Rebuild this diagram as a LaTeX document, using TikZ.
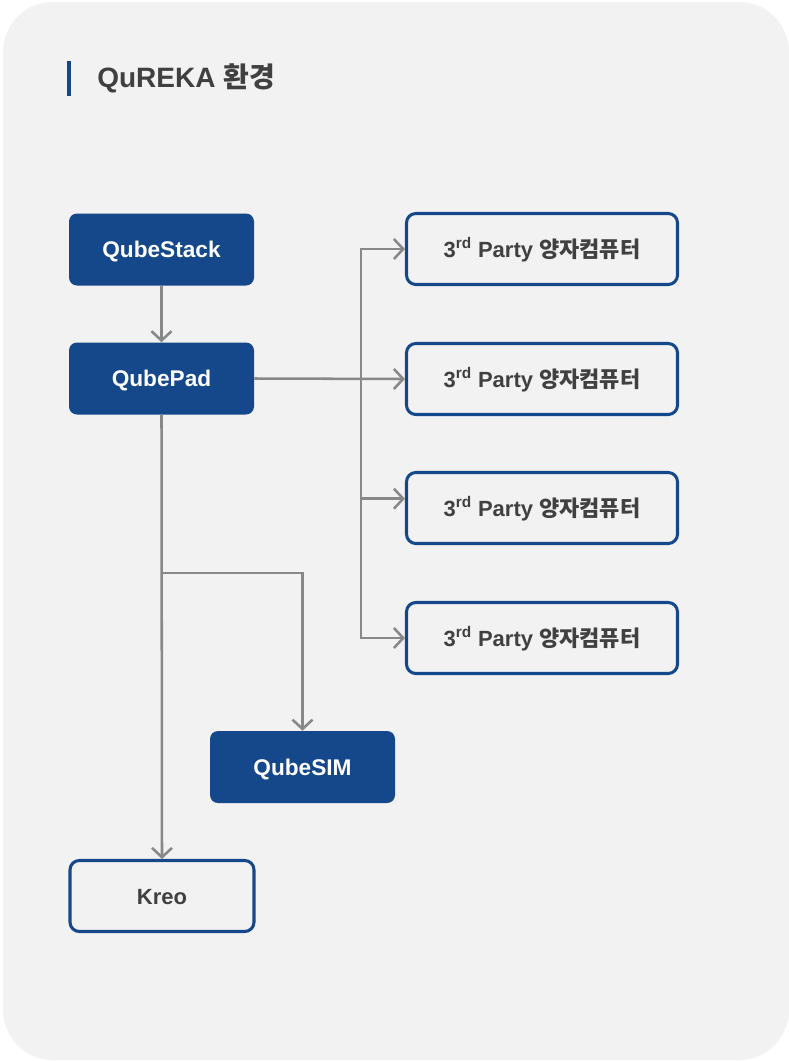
\documentclass[tikz,border=0pt]{standalone}
\usepackage{fontspec}
\setmainfont{Liberation Sans}
\newfontfamily\kr{Noto Sans CJK KR}
\usetikzlibrary{positioning,arrows.meta}
\definecolor{qblue}{RGB}{21,72,138}
\definecolor{qgray}{RGB}{136,136,136}
\definecolor{qtext}{RGB}{64,64,64}
\definecolor{qbg}{RGB}{242,242,242}
\tikzset{
  fbox/.style={rectangle,rounded corners=6pt,fill=qblue,text=white,
    minimum width=138.75pt,minimum height=54pt,text height=12pt,text depth=0pt,
    font=\bfseries\fontsize{17}{19}\selectfont},
  obox/.style={rectangle,rounded corners=7pt,draw=qblue,line width=2.3pt,fill=qbg,text=qtext,
    minimum height=53.25pt,text height=12pt,text depth=0pt,
    font=\bfseries\fontsize{16.5}{18}\selectfont},
  conn/.style={draw=qgray,line width=1.9pt},
  arr/.style={conn,-{Straight Barb[length=7pt,width=15pt,line width=1.9pt]}},
}
\newcommand{\party}{3\textsuperscript{rd} Party {\kr 양자컴퓨터}}

\begin{document}
\begin{tikzpicture}[x=0.75pt,y=-0.75pt]
  % background card
  \useasboundingbox (0,0) rectangle (789,1061);
  \fill[white] (0,0) rectangle (789,1061);
  \fill[qbg,rounded corners=37.5pt] (3,2) rectangle (789,1060);
  % title
  \fill[qblue] (67,61) rectangle (71,96);
  \node[anchor=west,text=qtext,font=\bfseries\fontsize{21}{25}\selectfont,inner sep=0pt]
    (title) at (97,78) {QuREKA {\kr 환경}};
  % blocks
  \node[fbox] (stack) at (161.5,249.5) {QubeStack};
  \node[fbox] (pad)   at (161.5,378.5) {QubePad};
  \node[fbox] (sim)   at (302.5,767)   {QubeSIM};
  \node[obox,minimum width=138pt] (kreo) at (162,896) {Kreo};
  \node[obox,minimum width=203.25pt] (p1) at (542,249) {\party};
  \node[obox,minimum width=203.25pt] (p2) at (542,379) {\party};
  \node[obox,minimum width=203.25pt] (p3) at (542,508) {\party};
  \node[obox,minimum width=203.25pt] (p4) at (542,638) {\party};
  % connectors
  \coordinate (bus) at (361,379);
  \coordinate (br)  at (161.5,573);
  \draw[arr] (stack) -- (pad);
  \draw[arr] (pad.east) -- (p2.west);
  \draw[arr] (bus) |- (p1.west);
  \draw[arr] (bus) |- ([yshift=7pt]p3.west);
  \draw[arr] (bus) |- (p4.west);
  \draw[arr] (pad.south) -- (kreo.north);
  \draw[arr] (br) -| (sim.north);
\end{tikzpicture}
\end{document}
